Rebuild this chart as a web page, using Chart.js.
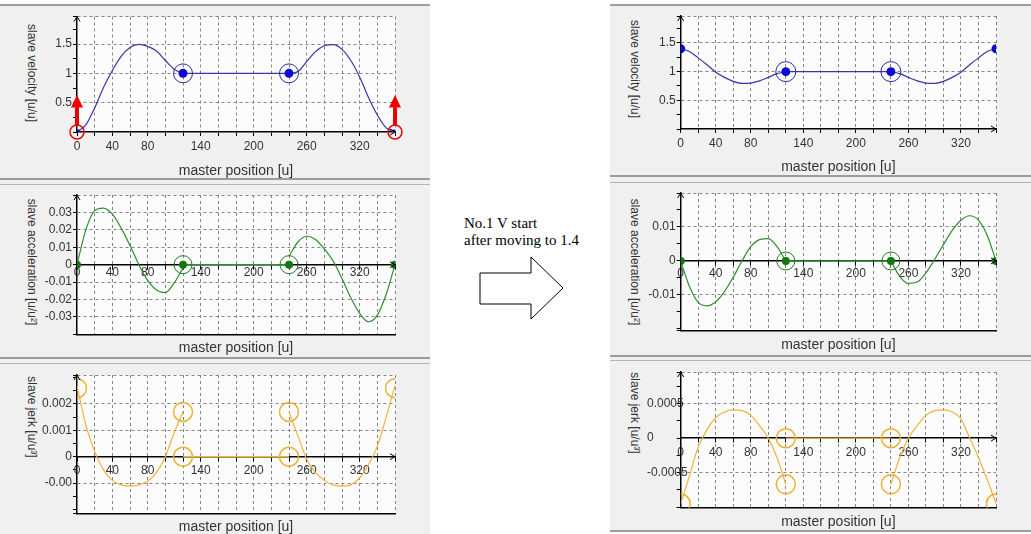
<!DOCTYPE html>
<html><head><meta charset="utf-8">
<script src="https://cdn.jsdelivr.net/npm/chart.js@4.4.1/dist/chart.umd.min.js"></script>
<style>
html,body{margin:0;padding:0;background:#fff;width:1031px;height:534px;overflow:hidden;position:relative;}
.panel{position:absolute;background:#f0f0f0;}
.ln{position:absolute;background:#9c9c9c;}
.ln2{position:absolute;background:#b4b4b4;}
.cv{position:absolute;}
.yt{position:absolute;writing-mode:vertical-rl;transform:translate(-50%,-50%);font-family:"Liberation Sans",Arial,sans-serif;font-size:12px;color:#333;white-space:nowrap;}
.note{position:absolute;left:464px;top:215px;font-family:"Liberation Serif","Times New Roman",serif;font-size:15px;line-height:17px;color:#000;white-space:nowrap;}
svg{position:absolute;left:0;top:0;}
</style></head><body>
<div class="panel" style="left:0;top:4px;width:430px;height:530px"></div>
<div class="ln" style="left:0;top:4px;width:430px;height:2px"></div>
<div class="ln" style="left:0;top:178px;width:430px;height:2px"></div>
<div class="ln2" style="left:0;top:184px;width:430px;height:1px"></div>
<div class="ln" style="left:0;top:357px;width:430px;height:2px"></div>
<div class="ln2" style="left:0;top:363px;width:430px;height:1px"></div>

<div class="panel" style="left:610px;top:4px;width:421px;height:527px"></div>
<div class="ln" style="left:610px;top:4px;width:421px;height:2px"></div>
<div class="ln" style="left:610px;top:175px;width:421px;height:2px"></div>
<div class="ln2" style="left:610px;top:182px;width:421px;height:1px"></div>
<div class="ln" style="left:610px;top:355px;width:421px;height:2px"></div>
<div class="ln2" style="left:610px;top:360px;width:421px;height:1px"></div>
<div class="ln" style="left:610px;top:530px;width:421px;height:2px"></div>

<div class="yt" style="left:32px;top:73px">slave velocity [u/u]</div>
<div class="yt" style="left:32px;top:262px">slave acceleration [u/u²]</div>
<div class="yt" style="left:32px;top:417px">slave jerk [u/u³]</div>
<div class="yt" style="left:635px;top:69px">slave velocity [u/u]</div>
<div class="yt" style="left:635px;top:262px">slave acceleration [u/u²]</div>
<div class="yt" style="left:635px;top:413px">slave jerk [u/u³]</div>

<div class="note">No.1 V start<br>after moving to 1.4</div>
<svg width="1031" height="534"><polygon points="480,273 531,273 531,257 563,288 531,319 531,304 480,304" fill="#fff" stroke="#000" stroke-width="1"/></svg>

<script>
// ---------------- data ----------------
const xSegA = [0,10,20,30,40,50,60,70,80,90,100,110,120];
const xSegB = [240,250,260,270,280,290,300,310,320,330,340,350,360];
const xFlat = [120,240];
const xTickLabels = [0,40,80,140,200,260,320];

// left: before change
const velL_A = [0,0.12,0.41,0.76,1.05,1.29,1.44,1.495,1.46,1.38,1.22,1.07,1.0];
const velL_B = [1.0,1.03,1.2,1.37,1.47,1.49,1.41,1.22,0.94,0.59,0.29,0.07,0];
const velL_flat = [1,1];
const velL_markX = [120,240];
const velL_markY = [1,1];
const velL_endX = [0,360];
const velL_endY = [0,0];
const redArrowX = [0,360];
const redArrowFrom = [0.117,0.117];
const redArrowTo = [0.633,0.633];
const redRingX = [0,360];
const redRingY = [0,0];

const accL_A = [0,0.02,0.031,0.0325,0.029,0.021,0.011,0.0,-0.009,-0.0145,-0.016,-0.0105,-0.002];
const accL_B = [0.0047,0.013,0.0163,0.0145,0.009,0.002,-0.008,-0.019,-0.028,-0.0328,-0.029,-0.017,0];
const accL_flat = [0,0];
const accL_dotX = [0,120,240,360];
const accL_dotY = [0,0,0,0];
const accL_ringX = [120,240];
const accL_ringY = [0,0];

const jerkL_A = [0.0027,0.0012,0.0002,-0.0005,-0.0009,-0.00107,-0.00112,-0.00107,-0.00093,-0.0006,0.0,0.0009,0.0017];
const jerkL_B = [0.0017,0.0008,-0.0001,-0.0006,-0.0009,-0.00107,-0.00112,-0.00107,-0.0008,-0.0003,0.0004,0.0015,0.0027];
const jerkL_flat = [0,0];
const jerkL_ringX = [0,120,120,240,240,360];
const jerkL_ringY = [0.0026,0.0017,0,0,0.0017,0.0026];

// right: after change
const velR_A = [1.4,1.35,1.24,1.12,0.99,0.9,0.83,0.795,0.8,0.84,0.9,0.965,1.0];
const velR_B = [1.0,0.965,0.9,0.84,0.8,0.795,0.83,0.9,0.99,1.12,1.24,1.35,1.4];
const velR_flat = [1,1];
const velR_dotX = [0,120,240,360];
const velR_dotY = [1.4,1,1,1.4];
const velR_ringX = [120,240];
const velR_ringY = [1,1];

const accR_A = [0,-0.0075,-0.0122,-0.0132,-0.012,-0.009,-0.0048,0.0,0.0042,0.0063,0.0066,0.0042,0.0];
const accR_B = [0.0,-0.0045,-0.0066,-0.0062,-0.0035,0.0005,0.0048,0.009,0.012,0.0133,0.012,0.0075,0];
const accR_flat = [0,0];
const accR_dotX = [0,120,240,360];
const accR_dotY = [0,0,0,0];
const accR_ringX = [120,240];
const accR_ringY = [0,0];

const jerkR_A = [-0.00095,-0.00055,-0.00013,0.00012,0.0003,0.00038,0.00041,0.0004,0.00033,0.00018,0.0,-0.00028,-0.00067];
const jerkR_B = [-0.00067,-0.00028,0.0,0.00018,0.00033,0.0004,0.00041,0.00038,0.00028,0.0,-0.00028,-0.0006,-0.00095];
const jerkR_flat = [0,0];
const jerkR_ringX = [0,120,120,240,240,360];
const jerkR_ringY = [-0.00095,-0.00067,0,0,-0.00067,-0.00095];

// y tick labels
const velYLabels = [0.5,1,1.5];
const velYTexts = ['0.5','1','1.5'];
const accLYLabels = [-0.03,-0.02,-0.01,0,0.01,0.02,0.03];
const accLYTexts = ['-0.03','-0.02','-0.01','0','0.01','0.02','0.03'];
const jerkLYLabels = [-0.001,0,0.001,0.002];
const jerkLYTexts = ['-0.00','0','0.001','0.002'];
const accRYLabels = [-0.01,0,0.01];
const accRYTexts = ['-0.01','0','0.01'];
const jerkRYLabels = [-0.0005,0,0.0005];
const jerkRYTexts = ['-0.0005','0','0.0005'];

// ---------------- helpers ----------------
const TXT = '#333';
const GRID = '#858585';
const pts = (xs, ys) => xs.map((x, i) => ({x: x, y: ys[i]}));
function tickList(min, max, step) {
  const out = [];
  let k = Math.ceil(min / step - 1e-6);
  if (k * step > min + step * 1e-3) out.push(min);
  while (k * step <= max + step * 1e-6) { out.push(Math.round(k * step * 1e9) / 1e9); k++; }
  if (out[out.length - 1] < max - step * 1e-3) out.push(max);
  return out;
}
const xTicks = tickList(0, 360, 20);

const curve = (xs, ys, c) => ({data: pts(xs, ys), borderColor: c, borderWidth: 1.2, pointRadius: 0, cubicInterpolationMode: 'monotone', fill: false});
const flat = (xs, ys, c) => ({data: pts(xs, ys), borderColor: c, borderWidth: 1.2, pointRadius: 0, tension: 0, fill: false});
const dots = (xs, ys, c, r, style) => ({data: pts(xs, ys), showLine: false, pointRadius: r, pointStyle: style || 'circle', pointBackgroundColor: c, pointBorderColor: c, pointBorderWidth: 0});
const rings = (xs, ys, c, r, w) => ({data: pts(xs, ys), showLine: false, pointRadius: r, pointBackgroundColor: 'rgba(0,0,0,0)', pointBorderColor: c, pointBorderWidth: w});

const areaBg = {id: 'areaBg', beforeDraw(ch) {
  const {ctx, chartArea: a} = ch;
  ctx.save(); ctx.fillStyle = '#fcfcfc'; ctx.fillRect(a.left, a.top, a.right - a.left, a.bottom - a.top); ctx.restore();
}};
const axisArrows = {id: 'axisArrows', afterDraw(ch) {
  const {ctx, chartArea: a, scales} = ch;
  let y0 = scales.y.getPixelForValue(0);
  y0 = Math.min(Math.max(y0, a.top), a.bottom);
  ctx.save(); ctx.strokeStyle = '#000'; ctx.lineWidth = 1;
  ctx.beginPath();
  ctx.moveTo(a.left - 3, a.top + 5); ctx.lineTo(a.left, a.top); ctx.lineTo(a.left + 3, a.top + 5);
  ctx.moveTo(a.right - 5, y0 - 3); ctx.lineTo(a.right, y0); ctx.lineTo(a.right - 5, y0 + 3);
  ctx.stroke(); ctx.restore();
}};
const redMarks = {id: 'redMarks', afterDatasetsDraw(ch) {
  const {ctx, scales: {x, y}} = ch;
  ctx.save(); ctx.fillStyle = '#ee0000'; ctx.strokeStyle = '#ee0000';
  redArrowX.forEach((xv, i) => {
    const px = x.getPixelForValue(xv);
    const yb = y.getPixelForValue(redArrowFrom[i]);
    const yt = y.getPixelForValue(redArrowTo[i]);
    const hh = 12.5;
    ctx.fillRect(px - 2, yt + hh, 4, yb - (yt + hh));
    ctx.beginPath(); ctx.moveTo(px - 6, yt + hh); ctx.lineTo(px, yt); ctx.lineTo(px + 6, yt + hh); ctx.closePath(); ctx.fill();
  });
  ctx.lineWidth = 1.5;
  redRingX.forEach((xv, i) => {
    ctx.beginPath(); ctx.arc(x.getPixelForValue(xv), y.getPixelForValue(redRingY[i]), 7, 0, Math.PI * 2); ctx.stroke();
  });
  ctx.restore();
}};

function makeChart(cfg) {
  const b = cfg.box, a = cfg.area;
  const cv = document.createElement('canvas');
  cv.width = b.w; cv.height = b.h; cv.className = 'cv';
  cv.style.left = b.l + 'px'; cv.style.top = b.t + 'px';
  cv.style.width = b.w + 'px'; cv.style.height = b.h + 'px';
  document.body.appendChild(cv);
  const yTicks = tickList(cfg.yMin, cfg.yMax, cfg.yStep);
  const tol = cfg.yStep * 1e-3;
  const labelAt = v => { const i = cfg.yLabels.findIndex(l => Math.abs(l - v) < tol); return i >= 0 ? cfg.yTexts[i] : ''; };
  const gridAt = v => cfg.yGrid.some(g => Math.abs(g - v) < tol) || Math.abs(v - cfg.yMax) < tol;
  const tickFont = {family: 'Liberation Sans', size: 12};
  const titleOpt = {display: true, text: 'master position [u]', color: TXT, font: {family: 'Liberation Sans', size: 14, lineHeight: 1}, padding: {top: 0, bottom: cfg.titlePad}};
  const bottomH = b.t + b.h - a.b;
  const yTickOpts = {autoSkip: false, padding: 1, color: TXT, font: tickFont, callback: v => labelAt(v)};
  if (cfg.labelLeft !== undefined) { yTickOpts.mirror = true; yTickOpts.padding = cfg.labelLeft - a.l; }
  const scales = {
    x: {
      type: 'linear', min: 0, max: 360,
      position: cfg.zeroAxis ? {y: 0} : 'bottom',
      afterBuildTicks: s => { s.ticks = xTicks.map(v => ({value: v})); },
      ticks: {autoSkip: false, maxRotation: 0, minRotation: 0, padding: cfg.xTickPad, color: TXT, font: tickFont,
        callback: v => xTickLabels.includes(v) ? String(v) : ''},
      grid: {color: c => (c.tick && c.tick.value === 0) ? 'rgba(0,0,0,0)' : GRID, lineWidth: 1, tickLength: 4, tickColor: '#000', tickWidth: 1},
      border: {display: true, color: '#000', width: 1.5, dash: [3, 3]},
      title: cfg.zeroAxis ? {display: false} : titleOpt,
      afterFit: s => { s.height = cfg.zeroAxis ? 0 : bottomH; s.paddingLeft = 0; s.paddingRight = 0; }
    },
    y: {
      type: 'linear', position: 'left', min: cfg.yMin, max: cfg.yMax,
      afterBuildTicks: s => { s.ticks = yTicks.map(v => ({value: v})); },
      ticks: yTickOpts,
      grid: {color: c => (c.tick && gridAt(c.tick.value)) ? GRID : 'rgba(0,0,0,0)', lineWidth: 1, tickLength: 4, tickColor: '#000', tickWidth: 1},
      border: {display: true, color: '#000', width: 1.5, dash: [3, 3]},
      afterFit: s => { s.width = a.l - b.l; s.paddingTop = 0; s.paddingBottom = 0; }
    }
  };
  if (cfg.zeroAxis) {
    scales.x2 = {
      type: 'linear', min: 0, max: 360, position: 'bottom', display: true,
      ticks: {display: false},
      grid: {display: false, drawTicks: false},
      border: {display: true, color: '#000', width: 1.5},
      title: titleOpt,
      afterFit: s => { s.height = bottomH; s.paddingLeft = 0; s.paddingRight = 0; }
    };
  }
  return new Chart(cv, {
    type: 'line',
    data: {datasets: cfg.datasets},
    options: {
      responsive: false, animation: false, events: [],
      layout: {padding: {left: 0, top: a.t - b.t, right: b.l + b.w - a.r, bottom: 0}},
      plugins: {legend: {display: false}, tooltip: {enabled: false}},
      scales: scales
    },
    plugins: [areaBg, axisArrows].concat(cfg.extra || [])
  });
}

const VEL = '#3838a8', VDOT = '#0c0cd0', VRING = '#2c2ca4';
const ACC = '#2f8f2f', ADOT = '#107a10', ARING = '#1f7a1f';
const JRK = '#f0b43c', JRING = '#eeb030';

// ---------- left column ----------
makeChart({
  box: {l: 0, t: 6, w: 430, h: 172}, area: {l: 77, t: 14, r: 395, b: 132},
  yMin: 0, yMax: 1.97, yStep: 0.25, yLabels: velYLabels, yTexts: velYTexts, yGrid: velYLabels,
  xTickPad: 3, titlePad: 0.3, zeroAxis: false, extra: [redMarks],
  datasets: [
    dots(velL_markX, velL_markY, VDOT, 4.5),
    rings(velL_markX, velL_markY, VRING, 9.5, 1),
    dots(velL_endX, velL_endY, VDOT, 3.5, 'rect'),
    curve(xSegA, velL_A, VEL), flat(xFlat, velL_flat, VEL), curve(xSegB, velL_B, VEL)
  ]
});
makeChart({
  box: {l: 0, t: 185, w: 430, h: 172}, area: {l: 77, t: 192.3, r: 395, b: 334.3},
  yMin: -0.04, yMax: 0.04, yStep: 0.01, yLabels: accLYLabels, yTexts: accLYTexts, yGrid: [-0.03,-0.02,-0.01,0.01,0.02,0.03],
  xTickPad: -3, titlePad: 2, zeroAxis: true,
  datasets: [
    dots(accL_dotX, accL_dotY, ADOT, 4),
    rings(accL_ringX, accL_ringY, ARING, 9, 1),
    curve(xSegA, accL_A, ACC), flat(xFlat, accL_flat, ACC), curve(xSegB, accL_B, ACC)
  ]
});
makeChart({
  box: {l: 0, t: 364, w: 430, h: 170}, area: {l: 77, t: 370.7, r: 395, b: 513.3},
  yMin: -0.00215, yMax: 0.0031, yStep: 0.0005, yLabels: jerkLYLabels, yTexts: jerkLYTexts, yGrid: [-0.001,0.001,0.002],
  xTickPad: 3, titlePad: 0, zeroAxis: true,
  datasets: [
    rings(jerkL_ringX, jerkL_ringY, JRING, 9.5, 1.5),
    curve(xSegA, jerkL_A, JRK), flat(xFlat, jerkL_flat, JRK), curve(xSegB, jerkL_B, JRK)
  ]
});

// ---------- right column ----------
makeChart({
  box: {l: 610, t: 5, w: 421, h: 171}, area: {l: 680.7, t: 13.3, r: 996, b: 129},
  yMin: 0, yMax: 1.97, yStep: 0.25, yLabels: velYLabels, yTexts: velYTexts, yGrid: velYLabels,
  xTickPad: 3, titlePad: 2, zeroAxis: false,
  datasets: [
    dots(velR_dotX, velR_dotY, VDOT, 4.5),
    rings(velR_ringX, velR_ringY, VRING, 10, 1),
    curve(xSegA, velR_A, VEL), flat(xFlat, velR_flat, VEL), curve(xSegB, velR_B, VEL)
  ]
});
makeChart({
  box: {l: 610, t: 183, w: 421, h: 173}, area: {l: 680.7, t: 189, r: 996, b: 330.3},
  yMin: -0.0204, yMax: 0.02, yStep: 0.005, yLabels: accRYLabels, yTexts: accRYTexts, yGrid: [-0.01,0.01],
  xTickPad: 1.5, titlePad: 4, zeroAxis: true,
  datasets: [
    dots(accR_dotX, accR_dotY, ADOT, 4),
    rings(accR_ringX, accR_ringY, ARING, 9, 1),
    curve(xSegA, accR_A, ACC), flat(xFlat, accR_flat, ACC), curve(xSegB, accR_B, ACC)
  ]
});
makeChart({
  box: {l: 610, t: 361, w: 421, h: 169}, area: {l: 680.7, t: 367.7, r: 996, b: 507.7},
  yMin: -0.00101, yMax: 0.00096, yStep: 0.00025, yLabels: jerkRYLabels, yTexts: jerkRYTexts, yGrid: [-0.0005,0.0005],
  xTickPad: 3, titlePad: 1, zeroAxis: true, labelLeft: 647,
  datasets: [
    rings(jerkR_ringX, jerkR_ringY, JRING, 9.5, 1.5),
    curve(xSegA, jerkR_A, JRK), flat(xFlat, jerkR_flat, JRK), curve(xSegB, jerkR_B, JRK)
  ]
});
</script>
</body></html>
